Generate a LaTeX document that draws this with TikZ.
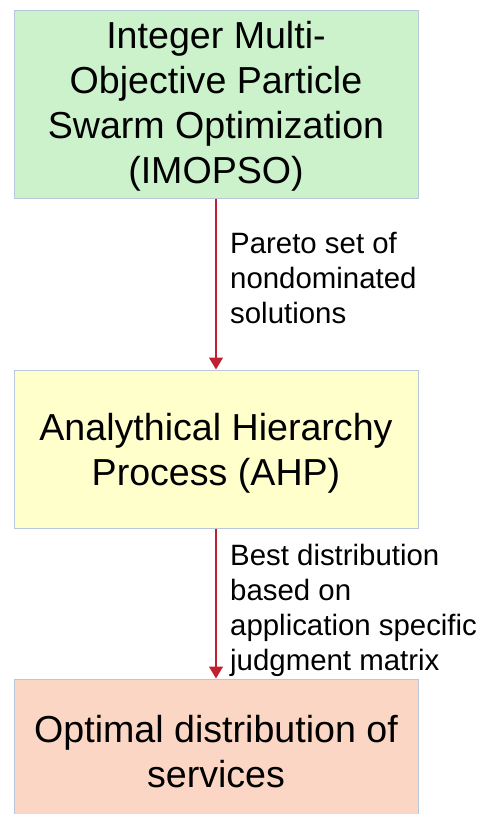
\documentclass[tikz,border=0pt]{standalone}
\usepackage{fontspec}
\setmainfont{Liberation Sans}
\usetikzlibrary{arrows.meta}
\definecolor{stagegreen}{RGB}{204,242,204}
\definecolor{stageyellow}{RGB}{255,255,204}
\definecolor{stagepeach}{RGB}{252,214,196}
\definecolor{stageedge}{RGB}{184,200,218}
\definecolor{flowred}{RGB}{192,32,48}
\begin{document}
\begin{tikzpicture}[x=1pt,y=-1pt,
  stage/.style={draw=stageedge, line width=1pt, minimum width=404pt, inner sep=0pt},
  stagetext/.style={font=\fontsize{37.6}{45}\selectfont, align=center, inner sep=0pt},
  flowlabel/.style={font=\fontsize{29.4}{35}\selectfont, align=left, inner sep=0pt, anchor=west},
  flow/.style={draw=flowred, line width=1.5pt, -{Triangle[width=14pt,length=12pt]}}]
  \clip (0,0) rectangle (481,814);
  % stage boxes
  \node[stage, fill=stagegreen,  minimum height=188pt] (imopso) at (216,104) {};
  \node[stage, fill=stageyellow, minimum height=158pt] (ahp)    at (216,449) {};
  \node[stage, fill=stagepeach,  minimum height=161pt] (result) at (216,759.5) {};
  % stage titles
  \node[stagetext] (imopsotext) at (216,106.7) {Integer Multi-\\Objective Particle\\Swarm Optimization\\(IMOPSO)};
  \node[stagetext] (ahptext) at (216,453.2) {Analythical Hierarchy\\Process (AHP)};
  \node[stagetext] (resulttext) at (216,751.2) {Optimal distribution of\\services};
  % connectors
  \draw[flow] (imopso.south) -- (ahp.north);
  \draw[flow] (ahp.south) -- (result.north);
  % connector labels
  \node[flowlabel] (paretolabel) at (230,277.7) {Pareto set of\\nondominated\\solutions};
  \node[flowlabel] (bestlabel) at (230,609.9) {Best distribution\\based on\\application specific\\judgment matrix};
\end{tikzpicture}
\end{document}
